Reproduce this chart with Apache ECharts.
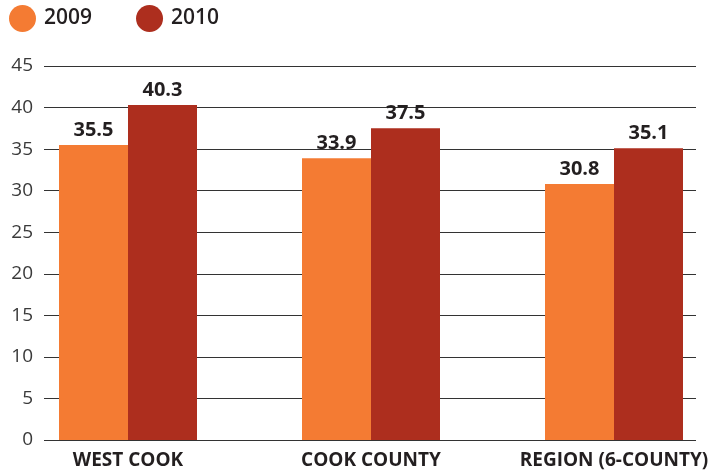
<!DOCTYPE html>
<html>
<head>
<meta charset="utf-8">
<script src="https://cdn.jsdelivr.net/npm/echarts@6/dist/echarts.min.js"></script>
<style>
html, body { margin: 0; padding: 0; background: #fff; }
#chart { width: 717px; height: 473px; }
</style>
</head>
<body>
<div id="chart"></div>
<script>
var categories = ['WEST COOK', 'COOK COUNTY', 'REGION (6-COUNTY)'];
var values2009 = [35.5, 33.9, 30.8];
var values2010 = [40.3, 37.5, 35.1];
var yTicks = {min: 0, max: 45, interval: 5};

var chart = echarts.init(document.getElementById('chart'));
var font = '"Open Sans", sans-serif';

var option = {
    animation: false,
    legend: {
        data: ['2009', '2010'],
        left: 9,
        top: 5,
        padding: 0,
        icon: 'circle',
        itemWidth: 27,
        itemHeight: 27,
        itemGap: 44,
        textStyle: {fontFamily: font, fontSize: 21, fontWeight: 600, color: '#231f20', padding: [0, 0, 0, 3]}
    },
    grid: [
        // gridlines and y labels
        {left: 44, right: 21, top: 66, bottom: 33},
        // bars and category labels: category points sit on the grid edges
        {left: 128, right: 103, top: 66, bottom: 33}
    ],
    xAxis: [
        {gridIndex: 0, type: 'category', data: categories, show: false},
        {
            gridIndex: 1,
            type: 'category',
            data: categories,
            boundaryGap: false,
            axisLine: {show: false},
            axisTick: {show: false},
            splitLine: {show: false},
            axisLabel: {interval: 0, fontFamily: font, fontSize: 19, fontWeight: 'bold', color: '#231f20', margin: 11}
        }
    ],
    yAxis: [
        {
            gridIndex: 0,
            type: 'value',
            min: yTicks.min,
            max: yTicks.max,
            interval: yTicks.interval,
            axisLine: {show: false},
            axisTick: {show: false},
            axisLabel: {fontFamily: font, fontSize: 19, color: '#3a3a3a', margin: 11},
            splitLine: {lineStyle: {color: '#333', width: 1}}
        },
        {
            gridIndex: 1,
            type: 'value',
            min: yTicks.min,
            max: yTicks.max,
            interval: yTicks.interval,
            show: false
        }
    ],
    series: [
        {
            name: '2009',
            type: 'bar',
            xAxisIndex: 1,
            yAxisIndex: 1,
            data: values2009,
            barWidth: 69,
            barGap: 0,
            clip: false,
            itemStyle: {color: '#f47b33'},
            label: {
                show: true,
                position: 'top',
                distance: 5,
                formatter: function (p) { return p.value.toFixed(1); },
                fontFamily: font, fontSize: 20, fontWeight: 'bold', color: '#231f20'
            }
        },
        {
            name: '2010',
            type: 'bar',
            xAxisIndex: 1,
            yAxisIndex: 1,
            data: values2010,
            barWidth: 69,
            barGap: 0,
            clip: false,
            itemStyle: {color: '#ad2e1e'},
            label: {
                show: true,
                position: 'top',
                distance: 5,
                formatter: function (p) { return p.value.toFixed(1); },
                fontFamily: font, fontSize: 20, fontWeight: 'bold', color: '#231f20'
            }
        }
    ]
};

chart.setOption(option);
</script>
</body>
</html>
